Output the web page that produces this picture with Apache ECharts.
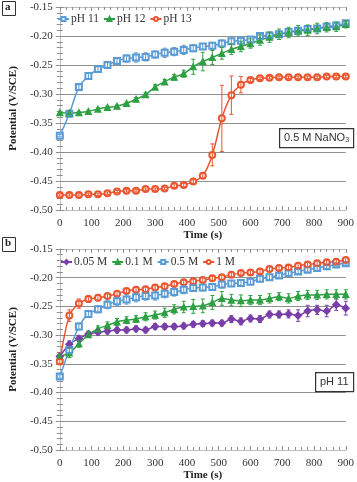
<!DOCTYPE html>
<html>
<head>
<meta charset="utf-8">
<script src="https://cdn.jsdelivr.net/npm/echarts@6/dist/echarts.min.js"></script>
<style>
html, body { margin: 0; padding: 0; background: #fff; }
#main { width: 357px; height: 482px; }
</style>
</head>
<body>
<div id="main"></div>
<script>
// time points (s), every 30 s
var times = [0, 30, 60, 90, 120, 150, 180, 210, 240, 270, 300, 330, 360, 390, 420, 450,
    480, 510, 540, 570, 600, 630, 660, 690, 720, 750, 780, 810, 840, 870, 900];

// panel a : 0.5 M NaNO3, different pH
var ph11 = [-0.372, -0.334, -0.288, -0.269, -0.257, -0.250, -0.243, -0.239, -0.237, -0.236, -0.232,
    -0.229, -0.227, -0.224, -0.221, -0.218, -0.217, -0.213, -0.209, -0.208, -0.206, -0.200,
    -0.199, -0.197, -0.193, -0.191, -0.188, -0.187, -0.184, -0.182, -0.178];
var ph12 = [-0.332, -0.333, -0.332, -0.330, -0.326, -0.323, -0.321, -0.316, -0.309, -0.301, -0.288,
    -0.279, -0.271, -0.265, -0.253, -0.244, -0.237, -0.230, -0.223, -0.218, -0.213, -0.207,
    -0.202, -0.197, -0.194, -0.191, -0.190, -0.187, -0.185, -0.184, -0.180];
var ph13 = [-0.474, -0.474, -0.474, -0.473, -0.473, -0.471, -0.468, -0.467, -0.467, -0.464, -0.464,
    -0.463, -0.458, -0.457, -0.451, -0.441, -0.405, -0.342, -0.302, -0.284, -0.276, -0.273,
    -0.272, -0.271, -0.271, -0.271, -0.271, -0.271, -0.270, -0.270, -0.270];
var err11 = [0.002, 0.003, 0.004, 0.006, 0.004, 0.004, 0.004, 0.006, 0.008, 0.007, 0.006, 0.008,
    0.007, 0.008, 0.006, 0.005, 0.006, 0.006, 0.005, 0.005, 0.005, 0.006, 0.004, 0.004, 0.004,
    0.004, 0.004, 0.004, 0.003, 0.003, 0.003];
var err12 = [0.002, 0.002, 0.002, 0.002, 0.002, 0.002, 0.002, 0.002, 0.003, 0.003, 0.004, 0.004,
    0.005, 0.006, 0.013, 0.016, 0.012, 0.010, 0.009, 0.009, 0.008, 0.009, 0.009, 0.009, 0.009,
    0.009, 0.009, 0.009, 0.008, 0.008, 0.006];
var err13 = [0.002, 0.002, 0.002, 0.002, 0.002, 0.002, 0.002, 0.002, 0.002, 0.002, 0.002, 0.002,
    0.003, 0.003, 0.003, 0.004, 0.019, 0.057, 0.033, 0.014, 0.003, 0.002, 0.002, 0.002, 0.002,
    0.002, 0.002, 0.002, 0.002, 0.002, 0.002];

// panel b : pH 11, different NaNO3 concentration
var m005 = [-0.337, -0.316, -0.306, -0.298, -0.295, -0.293, -0.291, -0.291, -0.289, -0.291, -0.285,
    -0.285, -0.285, -0.284, -0.281, -0.280, -0.279, -0.279, -0.272, -0.276, -0.271, -0.272,
    -0.264, -0.264, -0.263, -0.266, -0.258, -0.256, -0.258, -0.247, -0.253];
var m01 = [-0.337, -0.331, -0.315, -0.299, -0.289, -0.283, -0.277, -0.274, -0.272, -0.268, -0.265,
    -0.261, -0.255, -0.251, -0.250, -0.249, -0.243, -0.236, -0.239, -0.240, -0.239, -0.239,
    -0.236, -0.233, -0.236, -0.232, -0.230, -0.230, -0.229, -0.229, -0.229];
var m05 = [-0.372, -0.326, -0.285, -0.263, -0.255, -0.247, -0.241, -0.238, -0.234, -0.232, -0.231,
    -0.228, -0.225, -0.221, -0.218, -0.217, -0.216, -0.212, -0.210, -0.209, -0.207, -0.202,
    -0.199, -0.196, -0.192, -0.189, -0.186, -0.183, -0.180, -0.177, -0.175];
var m1 = [-0.346, -0.266, -0.245, -0.237, -0.235, -0.232, -0.228, -0.223, -0.221, -0.220, -0.217,
    -0.215, -0.211, -0.208, -0.206, -0.204, -0.201, -0.199, -0.195, -0.192, -0.191, -0.189,
    -0.185, -0.183, -0.182, -0.179, -0.177, -0.175, -0.173, -0.172, -0.169];
var err005 = [0.004, 0.006, 0.005, 0.005, 0.005, 0.005, 0.005, 0.005, 0.005, 0.005, 0.005, 0.005,
    0.005, 0.005, 0.005, 0.005, 0.005, 0.005, 0.006, 0.006, 0.006, 0.006, 0.006, 0.006, 0.007,
    0.010, 0.010, 0.008, 0.010, 0.010, 0.012];
var err01 = [0.003, 0.008, 0.006, 0.005, 0.005, 0.006, 0.006, 0.006, 0.006, 0.007, 0.007, 0.008,
    0.008, 0.010, 0.012, 0.012, 0.012, 0.012, 0.010, 0.010, 0.008, 0.008, 0.008, 0.007, 0.008,
    0.008, 0.008, 0.008, 0.008, 0.008, 0.008];
var err05 = [0.003, 0.006, 0.006, 0.006, 0.006, 0.007, 0.007, 0.008, 0.008, 0.007, 0.008, 0.007,
    0.007, 0.007, 0.006, 0.006, 0.006, 0.006, 0.005, 0.005, 0.005, 0.005, 0.005, 0.004, 0.004,
    0.004, 0.004, 0.004, 0.004, 0.003, 0.003];
var err1 = [0.004, 0.010, 0.008, 0.006, 0.005, 0.004, 0.004, 0.004, 0.004, 0.004, 0.004, 0.004,
    0.004, 0.004, 0.004, 0.004, 0.004, 0.004, 0.004, 0.004, 0.004, 0.004, 0.004, 0.004, 0.004,
    0.004, 0.004, 0.004, 0.004, 0.004, 0.004];

var xTicks = [0, 100, 200, 300, 400, 500, 600, 700, 800, 900];
var yTicks = [-0.50, -0.45, -0.40, -0.35, -0.30, -0.25, -0.20, -0.15];

var blue = '#5b9bd5', green = '#2ea043', red = '#ea5530', purple = '#7a3ea8';
var serif = 'Liberation Serif';

function pairs(vals) {
    var out = [];
    for (var i = 0; i < times.length; i++) out.push([times[i], vals[i]]);
    return out;
}

function errPairs(vals, errs) {
    var out = [];
    for (var i = 0; i < times.length; i++) out.push([times[i], vals[i] - errs[i], vals[i] + errs[i]]);
    return out;
}

function renderErr(params, api) {
    var x = api.value(0);
    var p1 = api.coord([x, api.value(1)]);
    var p2 = api.coord([x, api.value(2)]);
    var c = api.visual('color');
    var st = { stroke: c, lineWidth: 1 };
    return {
        type: 'group',
        children: [
            { type: 'line', shape: { x1: p1[0], y1: p1[1], x2: p2[0], y2: p2[1] }, style: st },
            { type: 'line', shape: { x1: p1[0] - 2, y1: p1[1], x2: p1[0] + 2, y2: p1[1] }, style: st },
            { type: 'line', shape: { x1: p2[0] - 2, y1: p2[1], x2: p2[0] + 2, y2: p2[1] }, style: st }
        ]
    };
}

function xAx(grid, top) {
    return {
        type: 'value', gridIndex: grid, position: top ? 'top' : 'bottom',
        min: xTicks[0], max: xTicks[xTicks.length - 1], interval: 100,
        name: top ? '' : 'Time (s)', nameLocation: 'middle', nameGap: 20,
        nameTextStyle: { fontFamily: serif, fontWeight: 'bold', fontSize: 11, color: '#222' },
        axisLine: { show: true, lineStyle: { color: '#bdbdbd' } },
        axisTick: { show: true, inside: true, length: 4, lineStyle: { color: '#8c8c8c' } },
        minorTick: { show: true, splitNumber: 5, length: 3, lineStyle: { color: '#8c8c8c' } },
        axisLabel: { show: !top, fontFamily: serif, fontSize: 11, color: '#333', margin: 8 },
        splitLine: { show: false }
    };
}

function yAx(grid, right) {
    return {
        type: 'value', gridIndex: grid, position: right ? 'right' : 'left',
        min: yTicks[0], max: yTicks[yTicks.length - 1], interval: 0.05,
        name: right ? '' : 'Potential (V/SCE)', nameLocation: 'middle', nameGap: 30,
        nameTextStyle: { fontFamily: serif, fontWeight: 'bold', fontSize: 11, color: '#222' },
        axisLine: { show: true, lineStyle: { color: '#bdbdbd' } },
        axisTick: { show: true, inside: true, length: 4, lineStyle: { color: '#8c8c8c' } },
        minorTick: { show: true, splitNumber: 5, length: 3, lineStyle: { color: '#8c8c8c' } },
        axisLabel: {
            show: !right, fontFamily: serif, fontSize: 11, color: '#333', margin: 7,
            formatter: function (v) { return v.toFixed(2); }
        },
        splitLine: {
            show: !right,
            lineStyle: { color: ['#bdbdbd', '#909090', '#909090', '#909090', '#909090', '#909090', '#909090', '#bdbdbd'], width: 1 }
        }
    };
}

function lineSeries(name, vals, color, symbol, size, xi, yi) {
    return {
        name: name, type: 'line', xAxisIndex: xi, yAxisIndex: yi,
        data: pairs(vals), smooth: 0.3, symbol: symbol, symbolSize: size,
        color: color, lineStyle: { width: 1.5, color: color },
        itemStyle: { color: color, borderColor: color, borderWidth: 1.2 },
        z: 3
    };
}

function errSeries(name, vals, errs, color, xi, yi) {
    return {
        name: name, type: 'custom', xAxisIndex: xi, yAxisIndex: yi,
        renderItem: renderErr, data: errPairs(vals, errs),
        itemStyle: { color: color }, encode: { x: 0, y: [1, 2] }, z: 4, silent: true
    };
}

var chart = echarts.init(document.getElementById('main'), null, { renderer: 'canvas' });

var legendText = { fontFamily: serif, fontSize: 11.5, color: '#333', padding: [0, 0, 0, -3] };

var option = {
    animation: false,
    backgroundColor: '#fff',
    grid: [
        { left: 44, top: 7, width: 311, height: 203 },
        { left: 44, top: 249, width: 311, height: 204 }
    ],
    xAxis: [xAx(0, false), xAx(0, true), xAx(1, false), xAx(1, true)],
    yAxis: [yAx(0, false), yAx(0, true), yAx(1, false), yAx(1, true)],
    legend: [
        {
            data: ['pH 11', 'pH 12', 'pH 13'], left: 52, top: 8, itemWidth: 11, itemHeight: 5, itemGap: 4,
            textStyle: legendText
        },
        {
            data: ['0.05 M', '0.1 M', '0.5 M', '1 M'], left: 55, top: 251, itemWidth: 11, itemHeight: 5, itemGap: 4,
            textStyle: legendText
        }
    ],
    graphic: [
        { type: 'rect', left: 2, top: 1, shape: { width: 13, height: 14 }, style: { fill: '#fff', stroke: '#333', lineWidth: 1 } },
        { type: 'text', left: 5, top: 2, style: { text: 'a', font: 'bold 11px "Liberation Serif"', fill: '#222' } },
        { type: 'rect', left: 2, top: 237, shape: { width: 13, height: 14 }, style: { fill: '#fff', stroke: '#333', lineWidth: 1 } },
        { type: 'text', left: 5, top: 238, style: { text: 'b', font: 'bold 11px "Liberation Serif"', fill: '#222' } },
        { type: 'rect', left: 279, top: 128, shape: { width: 74, height: 19 }, style: { fill: '#fff', stroke: '#333', lineWidth: 1.2 }, z: 10 },
        { type: 'text', left: 284, top: 132, z: 11, style: { rich: { n: { fontFamily: 'Liberation Sans', fontSize: 11, fill: '#333' }, s: { fontFamily: 'Liberation Sans', fontSize: 7, fill: '#333', padding: [6, 0, 0, 0] } }, text: '{n|0.5 M NaNO}{s|3}' } },
        { type: 'rect', left: 315, top: 372, shape: { width: 38, height: 19 }, style: { fill: '#fff', stroke: '#333', lineWidth: 1.2 }, z: 10 },
        { type: 'text', left: 320, top: 376, z: 11, style: { text: 'pH 11', font: '11px "Liberation Sans"', fill: '#333' } }
    ],
    series: [
        lineSeries('pH 11', ph11, blue, 'emptyRect', 6, 0, 0),
        lineSeries('pH 12', ph12, green, 'triangle', 6, 0, 0),
        lineSeries('pH 13', ph13, red, 'emptyCircle', 6, 0, 0),
        errSeries('e11', ph11, err11, blue, 0, 0),
        errSeries('e12', ph12, err12, green, 0, 0),
        errSeries('e13', ph13, err13, red, 0, 0),
        lineSeries('0.05 M', m005, purple, 'diamond', 7, 2, 2),
        lineSeries('0.1 M', m01, green, 'triangle', 6, 2, 2),
        lineSeries('0.5 M', m05, blue, 'emptyRect', 6, 2, 2),
        lineSeries('1 M', m1, red, 'emptyCircle', 6, 2, 2),
        errSeries('e005', m005, err005, purple, 2, 2),
        errSeries('e01', m01, err01, green, 2, 2),
        errSeries('e05', m05, err05, blue, 2, 2),
        errSeries('e1', m1, err1, red, 2, 2)
    ]
};

chart.setOption(option);
</script>
</body>
</html>
